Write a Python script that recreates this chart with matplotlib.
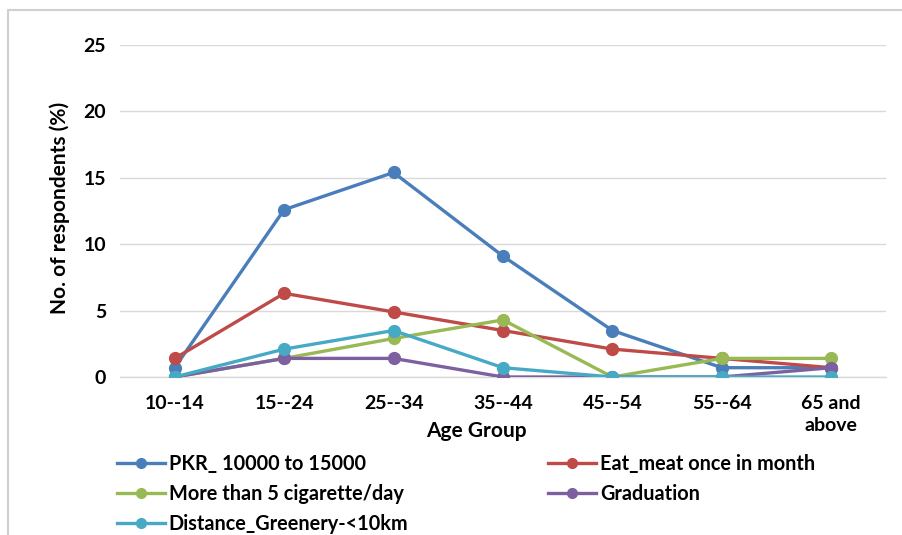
import matplotlib
matplotlib.use("Agg")
import matplotlib.pyplot as plt
from matplotlib.lines import Line2D

plt.rcParams['font.family'] = ['Lato', 'DejaVu Sans']

age_groups = ["10--14", "15--24", "25--34", "35--44", "45--54", "55--64", "65 and\nabove"]

pkr_income = [0.7, 12.6, 15.4, 9.1, 3.5, 0.7, 0.7]
eat_meat = [1.4, 6.3, 4.9, 3.5, 2.1, 1.4, 0.7]
cigarettes = [0.0, 1.4, 2.9, 4.3, 0.0, 1.4, 1.4]
graduation = [0.0, 1.4, 1.4, 0.0, 0.0, 0.0, 0.7]
greenery = [0.0, 2.1, 3.5, 0.7, 0.0, 0.0, 0.0]

series = [
    ("PKR_ 10000 to 15000", pkr_income, "#4A7EBB"),
    ("Eat_meat once in month", eat_meat, "#BE4B48"),
    ("More than 5 cigarette/day", cigarettes, "#98B954"),
    ("Graduation", graduation, "#7D60A0"),
    ("Distance_Greenery-<10km", greenery, "#46AAC5"),
]

W, H = 902, 535
fig = plt.figure(figsize=(W / 100, H / 100), dpi=100)
ax = fig.add_axes([120 / W, 1 - 377 / H, (886 - 120) / W, (377 - 45) / H])

x = list(range(len(age_groups)))
handles = {}
for name, vals, col in series:
    ax.plot(x, vals, color=col, lw=2.4, marker="o", ms=8.5, zorder=3)
    handles[name] = Line2D([], [], color=col, lw=2.4, marker="o", ms=7)

ax.set_xlim(-0.5, len(age_groups) - 0.5)
ax.set_ylim(0, 25)
ax.set_yticks([0, 5, 10, 15, 20, 25])
ax.set_xticks(x)
ax.set_xticklabels(age_groups, fontsize=14, fontweight="bold", linespacing=1.35)
ax.tick_params(axis="x", length=0, pad=13)
ax.tick_params(axis="y", length=0, pad=10, labelsize=14)
for lbl in ax.get_yticklabels():
    lbl.set_fontweight("bold")

ax.grid(axis="y", color="#D9D9D9", lw=1.0, zorder=0)
for side in ["top", "right", "left"]:
    ax.spines[side].set_visible(False)
ax.spines["bottom"].set_color("#D9D9D9")
ax.spines["bottom"].set_linewidth(1.0)

fig.text(60 / W, 1 - 208 / H, "No. of respondents (%)", rotation=90,
         ha="center", va="center", fontsize=15, fontweight="bold")
fig.text(476 / W, 1 - 431 / H, "Age Group", ha="center", va="center",
         fontsize=15, fontweight="bold")

order = ["PKR_ 10000 to 15000", "More than 5 cigarette/day", "Distance_Greenery-<10km",
         "Eat_meat once in month", "Graduation"]
leg = fig.legend([handles[n] for n in order], order, ncol=2, loc="upper left",
                 bbox_to_anchor=(99 / W, 1 - 436 / H), frameon=False,
                 prop={"size": 14.3, "weight": "bold"}, handlelength=2.4,
                 handletextpad=0.2, columnspacing=7.05, labelspacing=0.5)

# light frame around the chart area
fig.add_artist(Line2D([8 / W, 1], [1 - 10 / H, 1 - 10 / H], color="#D0D0D0", lw=1.5))
fig.add_artist(Line2D([8 / W, 8 / W], [0, 1 - 10 / H], color="#D0D0D0", lw=1.5))

fig.savefig("out.png", dpi=100)
